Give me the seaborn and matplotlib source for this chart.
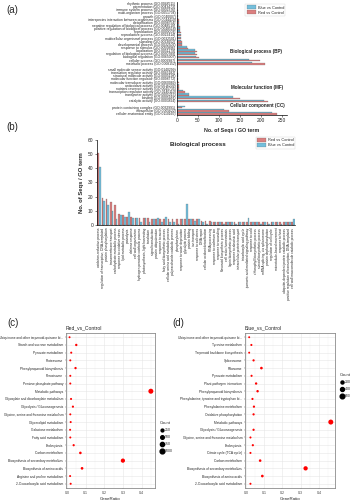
import numpy as np
import pandas as pd
import seaborn as sns
import matplotlib.pyplot as plt
from matplotlib.lines import Line2D

## ---- data: (a) GO classification
bp_terms = ['rhythmic process (GO:0048511)', 'pigmentation (GO:0043473)',
            'immune system process (GO:0002376)', 'multi-organism process (GO:0051704)',
            'growth (GO:0040007)', 'interspecies interaction between organisms (GO:0044419)',
            'detoxification (GO:0098754)', 'negative regulation of biological process (GO:0048519)',
            'positive regulation of biological process (GO:0048518)', 'reproduction (GO:0000003)',
            'reproductive process (GO:0022414)', 'multicellular organismal process (GO:0032501)',
            'signaling (GO:0023052)', 'developmental process (GO:0032502)',
            'response to stimulus (GO:0050896)', 'localization (GO:0051179)',
            'regulation of biological process (GO:0050789)', 'biological regulation (GO:0065007)',
            'cellular process (GO:0009987)', 'metabolic process (GO:0008152)']
bp_blue = [1, 1, 1, 2, 2, 3, 4, 6, 7, 8, 9, 9, 11, 12, 23, 44, 42, 46, 172, 178]
bp_red = [1, 1, 2, 2, 3, 4, 5, 7, 8, 9, 10, 11, 12, 13, 26, 47, 47, 53, 197, 209]

mf_terms = ['small molecule sensor activity (GO:0140299)', 'translation regulator activity (GO:0045182)',
            'structural molecule activity (GO:0005198)', 'molecular function regulator (GO:0098772)',
            'molecular transducer activity (GO:0060089)', 'antioxidant activity (GO:0016209)',
            'nutrient reservoir activity (GO:0045735)', 'transcription regulator activity (GO:0140110)',
            'transporter activity (GO:0005215)', 'binding (GO:0005488)',
            'catalytic activity (GO:0003824)']
mf_blue = [1, 1, 3, 2, 3, 4, 5, 15, 30, 133, 207]
mf_red = [1, 2, 2, 3, 4, 5, 6, 20, 30, 150, 217]

cc_terms = ['protein-containing complex (GO:0032991)', 'intracellular (GO:0005622)',
            'cellular anatomical entity (GO:0110165)']
cc_blue = [20, 113, 227]
cc_red = [12, 125, 238]

## ---- data: (b) biological process
b_terms = ['oxidation-reduction process', 'regulation of transcription, DNA-templated',
           'protein phosphorylation', 'transmembrane transport', 'carbohydrate metabolic process',
           'response to oxidative stress', 'lipid metabolic process', 'proteolysis',
           'defense response', 'cell wall organization', 'hydrogen peroxide catabolic process',
           'photosynthesis, light harvesting', 'translation', 'signal transduction',
           'protein ubiquitination', 'response to auxin', 'fatty acid biosynthetic process',
           'cellular amino acid metabolic process', 'polysaccharide catabolic process',
           'phosphorylation', 'response to water deprivation', 'glycolytic process',
           'protein folding', 'ion transport', 'response to salt stress', 'DNA repair',
           'cellular oxidant detoxification', 'RNA processing', 'response to cadmium ion',
           'response to wounding', 'flavonoid biosynthetic process', 'cell redox homeostasis',
           'lignin biosynthetic process', 'response to abscisic acid',
           'intracellular protein transport', 'tricarboxylic acid cycle',
           'jasmonic acid mediated signaling pathway', 'response to cold',
           'chlorophyll biosynthetic process', 'steroid biosynthetic process',
           'mRNA splicing, via spliceosome', 'protein dephosphorylation',
           'regulation of cell cycle', 'microtubule-based movement', 'response to heat',
           'ubiquitin-dependent protein catabolic process',
           'positive regulation of transcription, DNA-templated',
           'cell wall macromolecule catabolic process']
b_red = [51, 19, 18, 16, 14, 8, 7, 6, 6, 5, 5, 5, 5, 4, 4, 4, 4, 4, 4, 4, 4, 4, 4, 4,
         4, 3, 3, 3, 2, 2, 2, 2, 2, 2, 2, 2, 2, 2, 2, 2, 2, 2, 2, 2, 2, 2, 2, 2]
b_blue = [41, 17, 14, 10, 4, 7, 6, 9, 5, 5, 2, 5, 2, 4, 5, 2, 6, 2, 2, 1, 4, 15, 4, 3,
          4, 2, 1, 2, 2, 2, 1, 2, 2, 1, 2, 2, 5, 2, 2, 1, 2, 1, 2, 2, 1, 2, 2, 4]

## ---- data: (c) KEGG Red vs Control
c_paths = ['Ubiquinone and other terpenoid-quinone bi...', 'Starch and sucrose metabolism',
           'Pyruvate metabolism', 'Proteasome', 'Phenylpropanoid biosynthesis', 'Peroxisome',
           'Pentose phosphate pathway', 'Metabolic pathways',
           'Glyoxylate and dicarboxylate metabolism', 'Glycolysis / Gluconeogenesis',
           'Glycine, serine and threonine metabolism', 'Glycerolipid metabolism',
           'Galactose metabolism', 'Fatty acid metabolism', 'Endocytosis', 'Carbon metabolism',
           'Biosynthesis of secondary metabolites', 'Biosynthesis of amino acids',
           'Arginine and proline metabolism', '2-Oxocarboxylic acid metabolism']
c_ratio = [0.014, 0.05, 0.023, 0.018, 0.046, 0.018, 0.018, 0.45, 0.022, 0.032,
           0.018, 0.02, 0.017, 0.018, 0.036, 0.072, 0.30, 0.081, 0.017, 0.02]
c_count = [34, 120, 56, 44, 112, 44, 44, 1100, 54, 78,
           44, 49, 42, 44, 88, 176, 735, 198, 42, 49]

## ---- data: (d) KEGG Blue vs Control
d_paths = ['Ubiquinone and other terpenoid-quinone bi...', 'Tyrosine metabolism',
           'Terpenoid backbone biosynthesis', 'Spliceosome', 'Ribosome', 'Pyruvate metabolism',
           'Plant-pathogen interaction', 'Phenylpropanoid biosynthesis',
           'Phenylalanine, tyrosine and tryptophan bi...', 'Phenylalanine metabolism',
           'Oxidative phosphorylation', 'Metabolic pathways', 'Glycolysis / Gluconeogenesis',
           'Glycine, serine and threonine metabolism', 'Endocytosis', 'Citrate cycle (TCA cycle)',
           'Carbon metabolism', 'Biosynthesis of secondary metabolites',
           'Biosynthesis of amino acids', '2-Oxocarboxylic acid metabolism']
d_ratio = [0.018, 0.03, 0.018, 0.042, 0.085, 0.031, 0.056, 0.064, 0.036, 0.044,
           0.042, 0.465, 0.042, 0.025, 0.038, 0.025, 0.078, 0.327, 0.09, 0.025]
d_count = [27, 45, 27, 63, 128, 47, 84, 96, 54, 66,
           63, 698, 63, 38, 57, 38, 117, 490, 135, 38]

sns.set_style('white')
plt.rcParams['font.family'] = ['Liberation Sans', 'DejaVu Sans']

BLUE = '#62c7ee'
RED = '#ea7070'

fig = plt.figure(figsize=(3.53, 5.0), dpi=100)

## (a) horizontal GO bars
a_terms = bp_terms + mf_terms + cc_terms
a_rows = bp_terms + [' '] + mf_terms + ['  '] + cc_terms
df_a = pd.DataFrame({'term': a_terms * 2,
                     'n': bp_blue + mf_blue + cc_blue + bp_red + mf_red + cc_red,
                     'group': ['Blue vs Control'] * len(a_terms) + ['Red vs Control'] * len(a_terms)})
ax1 = fig.add_axes([0.501, 0.77, 0.312, 0.226])
sns.barplot(data=df_a, y='term', x='n', hue='group', order=a_rows,
            hue_order=['Blue vs Control', 'Red vs Control'], palette=[BLUE, RED],
            width=0.85, edgecolor='#555555', linewidth=0.15, ax=ax1)
ax1.set_xlim(0, 262)
ax1.set_xticks([0, 50, 100, 150, 200, 250])
ax1.tick_params(axis='y', labelsize=2.4, length=0, pad=1)
ax1.tick_params(axis='x', labelsize=3.5, length=1.5, width=0.4, pad=1, bottom=True)
ax1.set_ylabel('')
ax1.set_xlabel('No. of Seqs / GO term', fontsize=3.8, fontweight='bold', labelpad=3)
sns.despine(ax=ax1)
for s in ['left', 'bottom']:
    ax1.spines[s].set_linewidth(0.5)
    ax1.spines[s].set_color('black')
h, l = ax1.get_legend_handles_labels()
ax1.legend(h, l, loc='upper right', fontsize=2.8, frameon=True, edgecolor='#cccccc',
           handlelength=2.4, handleheight=1.3, borderpad=0.3, labelspacing=0.15,
           handletextpad=0.4, fancybox=False).get_frame().set_linewidth(0.3)
ax1.text(0.48, 0.566, 'Biological process (BP)', transform=ax1.transAxes,
         fontsize=3.3, fontweight='bold', va='center')
ax1.text(0.49, 0.239, 'Molecular function (MF)', transform=ax1.transAxes,
         fontsize=3.3, fontweight='bold', va='center')
ax1.text(0.48, 0.085, 'Cellular component (CC)', transform=ax1.transAxes,
         fontsize=3.3, fontweight='bold', va='center')

## (b) biological process bars
df_b = pd.DataFrame({'term': b_terms * 2, 'n': b_red + b_blue,
                     'group': ['Red vs Control'] * len(b_terms) + ['Blue vs Control'] * len(b_terms)})
ax2 = fig.add_axes([0.275, 0.55, 0.561, 0.17])
sns.barplot(data=df_b, x='term', y='n', hue='group', order=b_terms,
            hue_order=['Red vs Control', 'Blue vs Control'], palette=[RED, BLUE],
            width=0.85, edgecolor='#555555', linewidth=0.15, ax=ax2)
ax2.set_ylim(0, 60)
ax2.set_yticks(range(0, 61, 10))
ax2.set_xticks(range(len(b_terms)))
ax2.set_xticklabels(b_terms, rotation=90, fontsize=2.3)
ax2.tick_params(axis='y', labelsize=3.5, length=1.5, width=0.4, pad=1, left=True)
ax2.tick_params(axis='x', length=1, width=0.3, pad=1, bottom=True)
ax2.set_xlabel('')
ax2.set_ylabel('No. of Seqs / GO term', fontsize=4.2, fontweight='bold', labelpad=3)
sns.despine(ax=ax2)
for s in ['left', 'bottom']:
    ax2.spines[s].set_linewidth(0.5)
    ax2.spines[s].set_color('black')
h, l = ax2.get_legend_handles_labels()
ax2.legend(h, l, loc='upper right', bbox_to_anchor=(1.01, 1.06), fontsize=2.8, frameon=True,
           edgecolor='#cccccc', handlelength=2.4, handleheight=1.3, borderpad=0.3,
           labelspacing=0.15, handletextpad=0.4, fancybox=False).get_frame().set_linewidth(0.3)
fig.text(0.482, 0.711, 'Biological process', fontsize=4.5, fontweight='bold', va='center')


## (c) / (d) KEGG dot plots
def dotplot(ax, paths, ratio, count, title, lo, hi, leg_vals, leg_y, xmax):
    df = pd.DataFrame({'Pathway': paths, 'GeneRatio': ratio, 'Count': count})
    smin, smax = 2.0, 13.0
    sns.scatterplot(data=df, x='GeneRatio', y='Pathway', size='Count', sizes=(smin, smax),
                    size_norm=(lo, hi), color='#ff0000', edgecolor='none', legend=False,
                    ax=ax, zorder=3)
    ax.set_xlim(-0.005, xmax)
    ax.set_ylim(len(paths) - 0.45, -0.55)
    ax.set_xticks([0.0, 0.1, 0.2, 0.3, 0.4])
    ax.set_xticklabels(['0.0', '0.1', '0.2', '0.3', '0.4'])
    ax.set_xticks(np.arange(0.05, xmax, 0.1), minor=True)
    ax.grid(True, which='major', color='#e6e6e6', linewidth=0.4)
    ax.grid(True, which='minor', axis='x', color='#f2f2f2', linewidth=0.3)
    ax.set_axisbelow(True)
    ax.tick_params(axis='y', labelsize=2.3, length=1, width=0.3, pad=1, left=True, color='#555555')
    ax.tick_params(axis='x', labelsize=2.6, length=1, width=0.3, pad=1, bottom=True,
                   color='#555555', labelcolor='#444444')
    ax.tick_params(which='minor', length=0)
    for s in ax.spines.values():
        s.set_color('#8c8c8c')
        s.set_linewidth(0.6)
    ax.set_ylabel('')
    ax.set_xlabel('GeneRatio', fontsize=3.2, labelpad=1.5)
    ax.set_title(title, loc='left', fontsize=3.6, pad=3)
    handles = [Line2D([], [], marker='o', ls='', color='black',
                      markersize=np.sqrt(smin + (v - lo) / (hi - lo) * (smax - smin)))
               for v in leg_vals]
    leg = ax.legend(handles, [str(v) for v in leg_vals], title='Count', loc='center left',
                    bbox_to_anchor=(1.02, leg_y), frameon=False, fontsize=2.5,
                    title_fontsize=3.0, labelspacing=0.9, handletextpad=0.3, handlelength=1)
    leg._legend_box.align = 'left'


ax3 = fig.add_axes([0.187, 0.024, 0.252, 0.31])
dotplot(ax3, c_paths, c_ratio, c_count, 'Red_vs_Control', 34, 1100,
        [250, 500, 750, 1000], 0.33, 0.472)
ax4 = fig.add_axes([0.694, 0.024, 0.255, 0.31])
dotplot(ax4, d_paths, d_ratio, d_count, 'Blue_vs_Control', 27, 698,
        [200, 400, 600], 0.66, 0.488)

## panel letters
fig.text(0.018, 0.98, '(a)', fontsize=7, va='center')
fig.text(0.018, 0.745, '(b)', fontsize=7, va='center')
fig.text(0.022, 0.354, '(c)', fontsize=7, va='center')
fig.text(0.487, 0.354, '(d)', fontsize=7, va='center')

fig.savefig('out.png', dpi=100)
